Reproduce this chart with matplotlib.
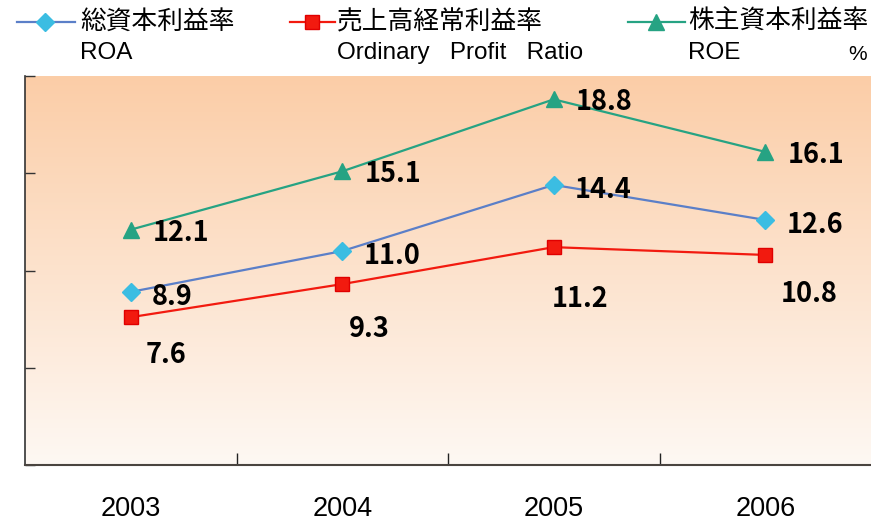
import numpy as np
import matplotlib
matplotlib.use("Agg")
import matplotlib.pyplot as plt
from matplotlib.lines import Line2D
from matplotlib import font_manager

years = ["2003", "2004", "2005", "2006"]
roa = [8.9, 11.0, 14.4, 12.6]
opr = [7.6, 9.3, 11.2, 10.8]
roe = [12.1, 15.1, 18.8, 16.1]
legend_jp = ["総資本利益率", "売上高経常利益率", "株主資本利益率"]
legend_en = ["ROA", "Ordinary   Profit   Ratio", "ROE"]

names = {f.name for f in font_manager.fontManager.ttflist}
SANS = "Liberation Sans" if "Liberation Sans" in names else "DejaVu Sans"
JP = "Noto Sans CJK JP"

W, H = 871, 523
fig = plt.figure(figsize=(W / 100, H / 100), dpi=100)
ax = fig.add_axes([25 / W, 1 - 465 / H, 1 - 25 / W, (465 - 76) / H])

x = np.arange(len(years))
ax.set_xlim(-0.5, 3.5)
ax.set_ylim(0, 20)

# gradient background
top = np.array([251, 205, 167]) / 255
bot = np.array([254, 248, 243]) / 255
t = np.linspace(0, 1, 256)[:, None]
grad = (top[None, :] * (1 - t) + bot[None, :] * t)[:, None, :]
ax.imshow(grad, extent=[-0.5, 3.5, 0, 20], aspect="auto", zorder=0, origin="upper")

c_roa_line, c_roa_mk = "#5B7FC8", "#3BBDE2"
c_opr = "#F21A0F"
c_roe = "#26A383"

ax.plot(x, roa, color=c_roa_line, lw=1.6, marker="D", ms=9, mfc=c_roa_mk, mec=c_roa_mk, zorder=3)
ax.plot(x, opr, color=c_opr, lw=1.6, marker="s", ms=10, mfc=c_opr, mec="#E00000", zorder=3)
ax.plot(x, roe, color=c_roe, lw=1.6, marker="^", ms=12, mfc=c_roe, mec=c_roe, zorder=3)

lab_kw = dict(textcoords="offset pixels", fontsize=19.5, fontweight="bold",
              family=[JP, "DejaVu Sans"], color="black", zorder=4)
for xi, v in zip(x, roa):
    ax.annotate(f"{v:.1f}", (xi, v), xytext=(21, -5), ha="left", va="center", **lab_kw)
for xi, v in zip(x, roe):
    ax.annotate(f"{v:.1f}", (xi, v), xytext=(22, -3), ha="left", va="center", **lab_kw)
opr_off = [(35, -38), (27, -45), (26, -52), (44, -39)]
for xi, v, off in zip(x, opr, opr_off):
    ax.annotate(f"{v:.1f}", (xi, v), xytext=off, ha="center", va="center", **lab_kw)

# axes styling
for s in ["top", "right"]:
    ax.spines[s].set_visible(False)
ax.spines["left"].set_color("#333333")
ax.spines["bottom"].set_color("#4a4440")
ax.spines["left"].set_linewidth(1.2)
ax.spines["bottom"].set_linewidth(1.5)
ax.set_yticks([0, 5, 10, 15, 20])
ax.set_yticklabels([])
ax.tick_params(axis="y", direction="in", length=7, width=1, color="#333333")
ax.set_xticks(x)
ax.set_xticklabels(years, fontsize=19.5, family=SANS)
ax.tick_params(axis="x", which="major", length=0, pad=22)
ax.set_xticks([0.5, 1.5, 2.5], minor=True)
ax.tick_params(axis="x", which="minor", direction="in", length=9, width=1, color="#222222")

# legend (manual)
def fx(px):
    return px / W

def fy(py):
    return 1 - py / H

handles = [
    (17, 75, 45, dict(color=c_roa_line, marker="D", ms=9, mfc=c_roa_mk, mec=c_roa_mk)),
    (290, 335, 312, dict(color=c_opr, marker="s", ms=10, mfc=c_opr, mec="#E00000")),
    (628, 685, 656, dict(color=c_roe, marker="^", ms=12, mfc=c_roe, mec=c_roe)),
]
text_x = [80, 337, 688]
for (x0, x1, xm, kw), tx, jp, en in zip(handles, text_x, legend_jp, legend_en):
    color = kw.pop("color")
    fig.add_artist(Line2D([fx(x0), fx(x1)], [fy(22), fy(22)], color=color, lw=1.6))
    fig.add_artist(Line2D([fx(xm)], [fy(22)], color=color, **kw))
    fig.text(fx(tx), fy(22), jp, fontsize=18.5, family=[JP, "DejaVu Sans"], ha="left", va="center")
    fig.text(fx(tx), fy(53), en, fontsize=17.5, family=[SANS, "DejaVu Sans"], ha="left", va="center")
fig.text(fx(858), fy(55), "%", fontsize=15, family=[SANS, "DejaVu Sans"], ha="center", va="center")

fig.savefig("out.png", dpi=100)
